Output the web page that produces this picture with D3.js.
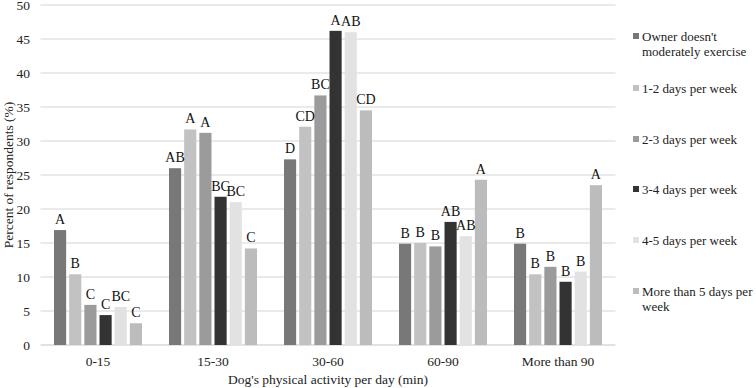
<!DOCTYPE html>
<html>
<head>
<meta charset="utf-8">
<script src="https://cdn.jsdelivr.net/npm/d3@7"></script>
<style>
  body { margin: 0; background: #fff; }
  svg { font-family: "Liberation Serif", "Times New Roman", serif; }
</style>
</head>
<body>
<div id="chart"></div>
<script>
const categories = ["0-15", "15-30", "30-60", "60-90", "More than 90"];
const seriesNames = ["Owner doesn't moderately exercise", "1-2 days per week", "2-3 days per week",
    "3-4 days per week", "4-5 days per week", "More than 5 days per week"];
const legendLines = [["Owner doesn't", "moderately exercise"], ["1-2 days per week"], ["2-3 days per week"],
    ["3-4 days per week"], ["4-5 days per week"], ["More than 5 days per", "week"]];
const seriesColors = ["#787878", "#c2c2c2", "#9b9b9b", "#333333", "#e2e2e2", "#bcbcbc"];

// values per series, one entry per category
const ownerNoExercise = [16.9, 26.0, 27.3, 14.9, 14.9];
const days12 = [10.4, 31.7, 32.1, 15.0, 10.4];
const days23 = [5.9, 31.2, 36.7, 14.5, 11.5];
const days34 = [4.4, 21.8, 46.2, 18.1, 9.3];
const days45 = [5.6, 21.0, 46.0, 16.0, 10.8];
const daysOver5 = [3.2, 14.2, 34.5, 24.3, 23.5];

// significance letters per series
const lettersOwner = ["A", "AB", "D", "B", "B"];
const letters12 = ["B", "A", "CD", "B", "B"];
const letters23 = ["C", "A", "BC", "B", "B"];
const letters34 = ["C", "BC", "A", "AB", "B"];
const letters45 = ["BC", "BC", "AB", "AB", "B"];
const lettersOver5 = ["C", "C", "CD", "A", "A"];

const yTicks = [0, 5, 10, 15, 20, 25, 30, 35, 40, 45, 50];

const seriesValues = [ownerNoExercise, days12, days23, days34, days45, daysOver5];
const seriesLetters = [lettersOwner, letters12, letters23, letters34, letters45, lettersOver5];

const width = 756, height = 388;
const plot = { left: 40.5, right: 615.5, top: 5, bottom: 345 };

const svg = d3.select("#chart").append("svg")
    .attr("width", width)
    .attr("height", height);

const x0 = d3.scaleBand().domain(categories).range([plot.left, plot.right]);
const x1 = d3.scaleBand().domain(d3.range(seriesNames.length))
    .range([13.5, x0.bandwidth() - 13.5])
    .paddingInner(0.2);
const y = d3.scaleLinear().domain([0, 50]).range([plot.bottom, plot.top]);

// gridlines
svg.append("g").selectAll("line")
    .data(yTicks)
    .join("line")
    .attr("x1", plot.left)
    .attr("x2", plot.right)
    .attr("y1", (d) => y(d))
    .attr("y2", (d) => y(d))
    .attr("stroke", (d) => d === 0 ? "#d9d9d9" : "#e3e3e3")
    .attr("stroke-width", 1.5);

// y tick labels
svg.append("g").selectAll("text")
    .data(yTicks)
    .join("text")
    .attr("x", 30)
    .attr("y", (d) => y(d) + 4.5)
    .attr("text-anchor", "end")
    .attr("font-size", 13.5)
    .attr("fill", "#222")
    .text((d) => d);

// bars
const flat = [];
categories.forEach((c, ci) => {
    seriesValues.forEach((vals, si) => {
        flat.push({ cat: c, s: si, value: vals[ci], letter: seriesLetters[si][ci] });
    });
});

svg.append("g").selectAll("rect")
    .data(flat)
    .join("rect")
    .attr("x", (d) => x0(d.cat) + x1(d.s))
    .attr("y", (d) => y(d.value))
    .attr("width", x1.bandwidth())
    .attr("height", (d) => y(0) - y(d.value))
    .attr("fill", (d) => seriesColors[d.s]);

svg.append("g").selectAll("text")
    .data(flat)
    .join("text")
    .attr("x", (d) => x0(d.cat) + x1(d.s) + x1.bandwidth() / 2)
    .attr("y", (d) => y(d.value) - 6)
    .attr("text-anchor", "middle")
    .attr("font-size", 14)
    .attr("fill", "#111")
    .text((d) => d.letter);

// x category labels
svg.append("g").selectAll("text")
    .data(categories)
    .join("text")
    .attr("x", (d) => x0(d) + x0.bandwidth() / 2)
    .attr("y", 366)
    .attr("text-anchor", "middle")
    .attr("font-size", 13.5)
    .attr("fill", "#222")
    .text((d) => d);

// axis titles
svg.append("text")
    .attr("x", (plot.left + plot.right) / 2)
    .attr("y", 384)
    .attr("text-anchor", "middle")
    .attr("font-size", 13.5)
    .attr("fill", "#222")
    .text("Dog's physical activity per day (min)");

svg.append("text")
    .attr("transform", `translate(13,${(plot.top + plot.bottom) / 2}) rotate(-90)`)
    .attr("text-anchor", "middle")
    .attr("font-size", 13.5)
    .attr("fill", "#222")
    .text("Percent of respondents (%)");

// legend
const legendY = [36, 88, 139, 189, 240, 291];
const legend = svg.append("g").selectAll("g")
    .data(seriesNames)
    .join("g")
    .attr("transform", (d, i) => `translate(633,${legendY[i]})`);

legend.append("rect")
    .attr("x", 0)
    .attr("y", -3)
    .attr("width", 6)
    .attr("height", 6)
    .attr("fill", (d, i) => seriesColors[i]);

legend.each(function (d, i) {
    const t = d3.select(this).append("text")
        .attr("font-size", 13)
        .attr("fill", "#222");
    legendLines[i].forEach((line, li) => {
        t.append("tspan")
            .attr("x", 9)
            .attr("y", 4.5 + li * 15.5)
            .text(line);
    });
});
</script>
</body>
</html>
